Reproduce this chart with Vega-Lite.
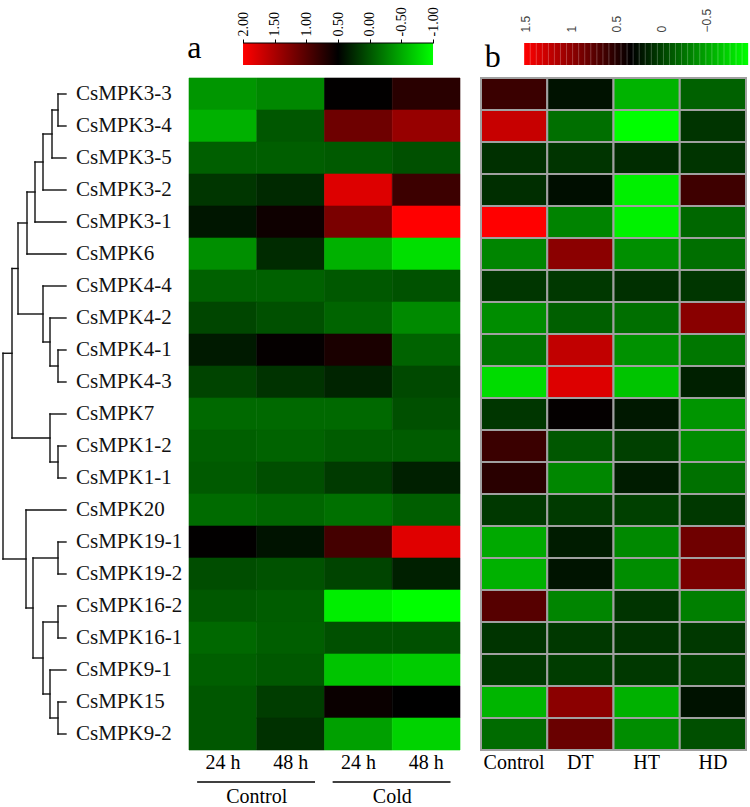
{
  "$schema": "https://vega.github.io/schema/vega-lite/v6.json",
  "padding": {"left": 0, "top": 6, "right": 0, "bottom": 0},
  "background": "white",
  "config": {"view": {"stroke": null}, "font": "Liberation Serif", "axis": {"grid": false}},
  "columns": 3,
  "spacing": {"row": 13, "column": 21},
  "bounds": "flush",
  "resolve": {"scale": {"x": "independent", "y": "independent", "color": "independent", "stroke": "independent"}},
  "datasets": {
    "genes": [
      {"gene": "CsMPK3-3", "idx": 0}, {"gene": "CsMPK3-4", "idx": 1}, {"gene": "CsMPK3-5", "idx": 2},
      {"gene": "CsMPK3-2", "idx": 3}, {"gene": "CsMPK3-1", "idx": 4}, {"gene": "CsMPK6", "idx": 5},
      {"gene": "CsMPK4-4", "idx": 6}, {"gene": "CsMPK4-2", "idx": 7}, {"gene": "CsMPK4-1", "idx": 8},
      {"gene": "CsMPK4-3", "idx": 9}, {"gene": "CsMPK7", "idx": 10}, {"gene": "CsMPK1-2", "idx": 11},
      {"gene": "CsMPK1-1", "idx": 12}, {"gene": "CsMPK20", "idx": 13}, {"gene": "CsMPK19-1", "idx": 14},
      {"gene": "CsMPK19-2", "idx": 15}, {"gene": "CsMPK16-2", "idx": 16}, {"gene": "CsMPK16-1", "idx": 17},
      {"gene": "CsMPK9-1", "idx": 18}, {"gene": "CsMPK15", "idx": 19}, {"gene": "CsMPK9-2", "idx": 20}
    ],
    "dendro": [
      {"h1": 0.8, "h2": 0.8, "y1": 0, "y2": 1}, {"h1": 0.8, "h2": 0, "y1": 0, "y2": 0}, {"h1": 0.8, "h2": 0, "y1": 1, "y2": 1},
      {"h1": 1.4, "h2": 1.4, "y1": 0.5, "y2": 2}, {"h1": 1.4, "h2": 0.8, "y1": 0.5, "y2": 0.5}, {"h1": 1.4, "h2": 0, "y1": 2, "y2": 2},
      {"h1": 2.3, "h2": 2.3, "y1": 1.25, "y2": 3}, {"h1": 2.3, "h2": 1.4, "y1": 1.25, "y2": 1.25}, {"h1": 2.3, "h2": 0, "y1": 3, "y2": 3},
      {"h1": 3.1, "h2": 3.1, "y1": 2.125, "y2": 4}, {"h1": 3.1, "h2": 2.3, "y1": 2.125, "y2": 2.125}, {"h1": 3.1, "h2": 0, "y1": 4, "y2": 4},
      {"h1": 3.9, "h2": 3.9, "y1": 3.0625, "y2": 5}, {"h1": 3.9, "h2": 3.1, "y1": 3.0625, "y2": 3.0625}, {"h1": 3.9, "h2": 0, "y1": 5, "y2": 5},
      {"h1": 0.8, "h2": 0.8, "y1": 8, "y2": 9}, {"h1": 0.8, "h2": 0, "y1": 8, "y2": 8}, {"h1": 0.8, "h2": 0, "y1": 9, "y2": 9},
      {"h1": 1.6, "h2": 1.6, "y1": 7, "y2": 8.5}, {"h1": 1.6, "h2": 0, "y1": 7, "y2": 7}, {"h1": 1.6, "h2": 0.8, "y1": 8.5, "y2": 8.5},
      {"h1": 2.3, "h2": 2.3, "y1": 6, "y2": 7.75}, {"h1": 2.3, "h2": 0, "y1": 6, "y2": 6}, {"h1": 2.3, "h2": 1.6, "y1": 7.75, "y2": 7.75},
      {"h1": 4.8, "h2": 4.8, "y1": 4.031, "y2": 6.875}, {"h1": 4.8, "h2": 3.9, "y1": 4.031, "y2": 4.031}, {"h1": 4.8, "h2": 2.3, "y1": 6.875, "y2": 6.875},
      {"h1": 0.8, "h2": 0.8, "y1": 11, "y2": 12}, {"h1": 0.8, "h2": 0, "y1": 11, "y2": 11}, {"h1": 0.8, "h2": 0, "y1": 12, "y2": 12},
      {"h1": 1.6, "h2": 1.6, "y1": 10, "y2": 11.5}, {"h1": 1.6, "h2": 0, "y1": 10, "y2": 10}, {"h1": 1.6, "h2": 0.8, "y1": 11.5, "y2": 11.5},
      {"h1": 5.4, "h2": 5.4, "y1": 5.453, "y2": 10.75}, {"h1": 5.4, "h2": 4.8, "y1": 5.453, "y2": 5.453}, {"h1": 5.4, "h2": 1.6, "y1": 10.75, "y2": 10.75},
      {"h1": 0.8, "h2": 0.8, "y1": 14, "y2": 15}, {"h1": 0.8, "h2": 0, "y1": 14, "y2": 14}, {"h1": 0.8, "h2": 0, "y1": 15, "y2": 15},
      {"h1": 0.8, "h2": 0.8, "y1": 16, "y2": 17}, {"h1": 0.8, "h2": 0, "y1": 16, "y2": 16}, {"h1": 0.8, "h2": 0, "y1": 17, "y2": 17},
      {"h1": 0.8, "h2": 0.8, "y1": 19, "y2": 20}, {"h1": 0.8, "h2": 0, "y1": 19, "y2": 19}, {"h1": 0.8, "h2": 0, "y1": 20, "y2": 20},
      {"h1": 1.6, "h2": 1.6, "y1": 18, "y2": 19.5}, {"h1": 1.6, "h2": 0, "y1": 18, "y2": 18}, {"h1": 1.6, "h2": 0.8, "y1": 19.5, "y2": 19.5},
      {"h1": 2.3, "h2": 2.3, "y1": 16.5, "y2": 18.75}, {"h1": 2.3, "h2": 0.8, "y1": 16.5, "y2": 16.5}, {"h1": 2.3, "h2": 1.6, "y1": 18.75, "y2": 18.75},
      {"h1": 3.3, "h2": 3.3, "y1": 14.5, "y2": 17.625}, {"h1": 3.3, "h2": 0.8, "y1": 14.5, "y2": 14.5}, {"h1": 3.3, "h2": 2.3, "y1": 17.625, "y2": 17.625},
      {"h1": 4.0, "h2": 4.0, "y1": 13, "y2": 16.0625}, {"h1": 4.0, "h2": 0, "y1": 13, "y2": 13}, {"h1": 4.0, "h2": 3.3, "y1": 16.0625, "y2": 16.0625},
      {"h1": 6.3, "h2": 6.3, "y1": 8.102, "y2": 14.531}, {"h1": 6.3, "h2": 5.4, "y1": 8.102, "y2": 8.102}, {"h1": 6.3, "h2": 4.0, "y1": 14.531, "y2": 14.531}
    ],
    "stripes": [
      {"at": 1.453}, {"at": 1.386}, {"at": 1.319}, {"at": 1.252}, {"at": 1.186}, {"at": 1.119}, {"at": 1.052}, {"at": 0.985},
      {"at": 0.918}, {"at": 0.851}, {"at": 0.784}, {"at": 0.717}, {"at": 0.650}, {"at": 0.584}, {"at": 0.517}, {"at": 0.450},
      {"at": 0.383}, {"at": 0.316}, {"at": 0.249}, {"at": 0.182}, {"at": 0.115}, {"at": 0.048}, {"at": -0.019}, {"at": -0.086},
      {"at": -0.152}, {"at": -0.219}, {"at": -0.286}, {"at": -0.353}, {"at": -0.420}, {"at": -0.487}, {"at": -0.554}, {"at": -0.621},
      {"at": -0.688}, {"at": -0.755}, {"at": -0.821}, {"at": -0.888}
    ],
    "cold": [
      {"gene": "CsMPK3-3", "idx": 0, "col": "Control 24 h", "v": -0.38}, {"gene": "CsMPK3-3", "idx": 0, "col": "Control 48 h", "v": -0.30}, {"gene": "CsMPK3-3", "idx": 0, "col": "Cold 24 h", "v": 0.51}, {"gene": "CsMPK3-3", "idx": 0, "col": "Cold 48 h", "v": 0.74},
      {"gene": "CsMPK3-4", "idx": 1, "col": "Control 24 h", "v": -0.54}, {"gene": "CsMPK3-4", "idx": 1, "col": "Control 48 h", "v": -0.01}, {"gene": "CsMPK3-4", "idx": 1, "col": "Cold 24 h", "v": 1.15}, {"gene": "CsMPK3-4", "idx": 1, "col": "Cold 48 h", "v": 1.39},
      {"gene": "CsMPK3-5", "idx": 2, "col": "Control 24 h", "v": -0.06}, {"gene": "CsMPK3-5", "idx": 2, "col": "Control 48 h", "v": -0.05}, {"gene": "CsMPK3-5", "idx": 2, "col": "Cold 24 h", "v": -0.03}, {"gene": "CsMPK3-5", "idx": 2, "col": "Cold 48 h", "v": 0.03},
      {"gene": "CsMPK3-2", "idx": 3, "col": "Control 24 h", "v": 0.18}, {"gene": "CsMPK3-2", "idx": 3, "col": "Control 48 h", "v": 0.26}, {"gene": "CsMPK3-2", "idx": 3, "col": "Cold 24 h", "v": 1.80}, {"gene": "CsMPK3-2", "idx": 3, "col": "Cold 48 h", "v": 0.85},
      {"gene": "CsMPK3-1", "idx": 4, "col": "Control 24 h", "v": 0.37}, {"gene": "CsMPK3-1", "idx": 4, "col": "Control 48 h", "v": 0.58}, {"gene": "CsMPK3-1", "idx": 4, "col": "Cold 24 h", "v": 1.22}, {"gene": "CsMPK3-1", "idx": 4, "col": "Cold 48 h", "v": 2.00},
      {"gene": "CsMPK6", "idx": 5, "col": "Control 24 h", "v": -0.34}, {"gene": "CsMPK6", "idx": 5, "col": "Control 48 h", "v": 0.25}, {"gene": "CsMPK6", "idx": 5, "col": "Cold 24 h", "v": -0.54}, {"gene": "CsMPK6", "idx": 5, "col": "Cold 48 h", "v": -0.81},
      {"gene": "CsMPK4-4", "idx": 6, "col": "Control 24 h", "v": -0.07}, {"gene": "CsMPK4-4", "idx": 6, "col": "Control 48 h", "v": -0.07}, {"gene": "CsMPK4-4", "idx": 6, "col": "Cold 24 h", "v": -0.02}, {"gene": "CsMPK4-4", "idx": 6, "col": "Cold 48 h", "v": 0.02},
      {"gene": "CsMPK4-2", "idx": 7, "col": "Control 24 h", "v": 0.09}, {"gene": "CsMPK4-2", "idx": 7, "col": "Control 48 h", "v": 0.03}, {"gene": "CsMPK4-2", "idx": 7, "col": "Cold 24 h", "v": -0.09}, {"gene": "CsMPK4-2", "idx": 7, "col": "Cold 48 h", "v": -0.31},
      {"gene": "CsMPK4-1", "idx": 8, "col": "Control 24 h", "v": 0.35}, {"gene": "CsMPK4-1", "idx": 8, "col": "Control 48 h", "v": 0.53}, {"gene": "CsMPK4-1", "idx": 8, "col": "Cold 24 h", "v": 0.65}, {"gene": "CsMPK4-1", "idx": 8, "col": "Cold 48 h", "v": -0.08},
      {"gene": "CsMPK4-3", "idx": 9, "col": "Control 24 h", "v": 0.10}, {"gene": "CsMPK4-3", "idx": 9, "col": "Control 48 h", "v": 0.20}, {"gene": "CsMPK4-3", "idx": 9, "col": "Cold 24 h", "v": 0.29}, {"gene": "CsMPK4-3", "idx": 9, "col": "Cold 48 h", "v": 0.07},
      {"gene": "CsMPK7", "idx": 10, "col": "Control 24 h", "v": -0.12}, {"gene": "CsMPK7", "idx": 10, "col": "Control 48 h", "v": -0.12}, {"gene": "CsMPK7", "idx": 10, "col": "Cold 24 h", "v": -0.12}, {"gene": "CsMPK7", "idx": 10, "col": "Cold 48 h", "v": 0.03},
      {"gene": "CsMPK1-2", "idx": 11, "col": "Control 24 h", "v": -0.06}, {"gene": "CsMPK1-2", "idx": 11, "col": "Control 48 h", "v": -0.08}, {"gene": "CsMPK1-2", "idx": 11, "col": "Cold 24 h", "v": -0.04}, {"gene": "CsMPK1-2", "idx": 11, "col": "Cold 48 h", "v": -0.04},
      {"gene": "CsMPK1-1", "idx": 12, "col": "Control 24 h", "v": -0.03}, {"gene": "CsMPK1-1", "idx": 12, "col": "Control 48 h", "v": 0.04}, {"gene": "CsMPK1-1", "idx": 12, "col": "Cold 24 h", "v": 0.16}, {"gene": "CsMPK1-1", "idx": 12, "col": "Cold 48 h", "v": 0.31},
      {"gene": "CsMPK20", "idx": 13, "col": "Control 24 h", "v": -0.13}, {"gene": "CsMPK20", "idx": 13, "col": "Control 48 h", "v": -0.10}, {"gene": "CsMPK20", "idx": 13, "col": "Cold 24 h", "v": -0.16}, {"gene": "CsMPK20", "idx": 13, "col": "Cold 48 h", "v": -0.05},
      {"gene": "CsMPK19-1", "idx": 14, "col": "Control 24 h", "v": 0.51}, {"gene": "CsMPK19-1", "idx": 14, "col": "Control 48 h", "v": 0.39}, {"gene": "CsMPK19-1", "idx": 14, "col": "Cold 24 h", "v": 0.90}, {"gene": "CsMPK19-1", "idx": 14, "col": "Cold 48 h", "v": 1.82},
      {"gene": "CsMPK19-2", "idx": 15, "col": "Control 24 h", "v": 0.05}, {"gene": "CsMPK19-2", "idx": 15, "col": "Control 48 h", "v": 0.02}, {"gene": "CsMPK19-2", "idx": 15, "col": "Cold 24 h", "v": 0.10}, {"gene": "CsMPK19-2", "idx": 15, "col": "Cold 48 h", "v": 0.31},
      {"gene": "CsMPK16-2", "idx": 16, "col": "Control 24 h", "v": -0.02}, {"gene": "CsMPK16-2", "idx": 16, "col": "Control 48 h", "v": -0.04}, {"gene": "CsMPK16-2", "idx": 16, "col": "Cold 24 h", "v": -0.90}, {"gene": "CsMPK16-2", "idx": 16, "col": "Cold 48 h", "v": -1.00},
      {"gene": "CsMPK16-1", "idx": 17, "col": "Control 24 h", "v": -0.11}, {"gene": "CsMPK16-1", "idx": 17, "col": "Control 48 h", "v": -0.05}, {"gene": "CsMPK16-1", "idx": 17, "col": "Cold 24 h", "v": 0.03}, {"gene": "CsMPK16-1", "idx": 17, "col": "Cold 48 h", "v": 0.03},
      {"gene": "CsMPK9-1", "idx": 18, "col": "Control 24 h", "v": -0.06}, {"gene": "CsMPK9-1", "idx": 18, "col": "Control 48 h", "v": -0.02}, {"gene": "CsMPK9-1", "idx": 18, "col": "Cold 24 h", "v": -0.65}, {"gene": "CsMPK9-1", "idx": 18, "col": "Cold 48 h", "v": -0.70},
      {"gene": "CsMPK15", "idx": 19, "col": "Control 24 h", "v": -0.01}, {"gene": "CsMPK15", "idx": 19, "col": "Control 48 h", "v": 0.14}, {"gene": "CsMPK15", "idx": 19, "col": "Cold 24 h", "v": 0.56}, {"gene": "CsMPK15", "idx": 19, "col": "Cold 48 h", "v": 0.50},
      {"gene": "CsMPK9-2", "idx": 20, "col": "Control 24 h", "v": -0.01}, {"gene": "CsMPK9-2", "idx": 20, "col": "Control 48 h", "v": 0.21}, {"gene": "CsMPK9-2", "idx": 20, "col": "Cold 24 h", "v": -0.44}, {"gene": "CsMPK9-2", "idx": 20, "col": "Cold 48 h", "v": -0.74}
    ],
    "stress": [
      {"gene": "CsMPK3-3", "idx": 0, "col": "Control", "v": 0.60}, {"gene": "CsMPK3-3", "idx": 0, "col": "DT", "v": 0.24}, {"gene": "CsMPK3-3", "idx": 0, "col": "HT", "v": -0.57}, {"gene": "CsMPK3-3", "idx": 0, "col": "HD", "v": -0.16},
      {"gene": "CsMPK3-4", "idx": 1, "col": "Control", "v": 1.26}, {"gene": "CsMPK3-4", "idx": 1, "col": "DT", "v": -0.23}, {"gene": "CsMPK3-4", "idx": 1, "col": "HT", "v": -0.955}, {"gene": "CsMPK3-4", "idx": 1, "col": "HD", "v": 0.07},
      {"gene": "CsMPK3-5", "idx": 2, "col": "Control", "v": 0.09}, {"gene": "CsMPK3-5", "idx": 2, "col": "DT", "v": 0.07}, {"gene": "CsMPK3-5", "idx": 2, "col": "HT", "v": 0.11}, {"gene": "CsMPK3-5", "idx": 2, "col": "HD", "v": 0.07},
      {"gene": "CsMPK3-2", "idx": 3, "col": "Control", "v": 0.10}, {"gene": "CsMPK3-2", "idx": 3, "col": "DT", "v": 0.26}, {"gene": "CsMPK3-2", "idx": 3, "col": "HT", "v": -0.88}, {"gene": "CsMPK3-2", "idx": 3, "col": "HD", "v": 0.62},
      {"gene": "CsMPK3-1", "idx": 4, "col": "Control", "v": 1.52}, {"gene": "CsMPK3-1", "idx": 4, "col": "DT", "v": -0.33}, {"gene": "CsMPK3-1", "idx": 4, "col": "HT", "v": -0.89}, {"gene": "CsMPK3-1", "idx": 4, "col": "HD", "v": -0.19},
      {"gene": "CsMPK6", "idx": 5, "col": "Control", "v": -0.34}, {"gene": "CsMPK6", "idx": 5, "col": "DT", "v": 0.98}, {"gene": "CsMPK6", "idx": 5, "col": "HT", "v": -0.39}, {"gene": "CsMPK6", "idx": 5, "col": "HD", "v": -0.23},
      {"gene": "CsMPK4-4", "idx": 6, "col": "Control", "v": 0.06}, {"gene": "CsMPK4-4", "idx": 6, "col": "DT", "v": 0.05}, {"gene": "CsMPK4-4", "idx": 6, "col": "HT", "v": 0.09}, {"gene": "CsMPK4-4", "idx": 6, "col": "HD", "v": 0.06},
      {"gene": "CsMPK4-2", "idx": 7, "col": "Control", "v": -0.38}, {"gene": "CsMPK4-2", "idx": 7, "col": "DT", "v": -0.15}, {"gene": "CsMPK4-2", "idx": 7, "col": "HT", "v": -0.23}, {"gene": "CsMPK4-2", "idx": 7, "col": "HD", "v": 0.97},
      {"gene": "CsMPK4-1", "idx": 8, "col": "Control", "v": -0.25}, {"gene": "CsMPK4-1", "idx": 8, "col": "DT", "v": 1.23}, {"gene": "CsMPK4-1", "idx": 8, "col": "HT", "v": -0.40}, {"gene": "CsMPK4-1", "idx": 8, "col": "HD", "v": -0.27},
      {"gene": "CsMPK4-3", "idx": 9, "col": "Control", "v": -0.78}, {"gene": "CsMPK4-3", "idx": 9, "col": "DT", "v": 1.36}, {"gene": "CsMPK4-3", "idx": 9, "col": "HT", "v": -0.66}, {"gene": "CsMPK4-3", "idx": 9, "col": "HD", "v": 0.17},
      {"gene": "CsMPK7", "idx": 10, "col": "Control", "v": 0.06}, {"gene": "CsMPK7", "idx": 10, "col": "DT", "v": 0.35}, {"gene": "CsMPK7", "idx": 10, "col": "HT", "v": 0.21}, {"gene": "CsMPK7", "idx": 10, "col": "HD", "v": -0.42},
      {"gene": "CsMPK1-2", "idx": 11, "col": "Control", "v": 0.60}, {"gene": "CsMPK1-2", "idx": 11, "col": "DT", "v": -0.11}, {"gene": "CsMPK1-2", "idx": 11, "col": "HT", "v": 0.01}, {"gene": "CsMPK1-2", "idx": 11, "col": "HD", "v": -0.38},
      {"gene": "CsMPK1-1", "idx": 12, "col": "Control", "v": 0.52}, {"gene": "CsMPK1-1", "idx": 12, "col": "DT", "v": -0.35}, {"gene": "CsMPK1-1", "idx": 12, "col": "HT", "v": 0.19}, {"gene": "CsMPK1-1", "idx": 12, "col": "HD", "v": -0.24},
      {"gene": "CsMPK20", "idx": 13, "col": "Control", "v": 0.05}, {"gene": "CsMPK20", "idx": 13, "col": "DT", "v": 0.04}, {"gene": "CsMPK20", "idx": 13, "col": "HT", "v": 0.01}, {"gene": "CsMPK20", "idx": 13, "col": "HD", "v": 0.05},
      {"gene": "CsMPK19-1", "idx": 14, "col": "Control", "v": -0.52}, {"gene": "CsMPK19-1", "idx": 14, "col": "DT", "v": 0.19}, {"gene": "CsMPK19-1", "idx": 14, "col": "HT", "v": -0.36}, {"gene": "CsMPK19-1", "idx": 14, "col": "HD", "v": 0.85},
      {"gene": "CsMPK19-2", "idx": 15, "col": "Control", "v": -0.56}, {"gene": "CsMPK19-2", "idx": 15, "col": "DT", "v": 0.23}, {"gene": "CsMPK19-2", "idx": 15, "col": "HT", "v": -0.38}, {"gene": "CsMPK19-2", "idx": 15, "col": "HD", "v": 0.90},
      {"gene": "CsMPK16-2", "idx": 16, "col": "Control", "v": 0.73}, {"gene": "CsMPK16-2", "idx": 16, "col": "DT", "v": -0.34}, {"gene": "CsMPK16-2", "idx": 16, "col": "HT", "v": 0.07}, {"gene": "CsMPK16-2", "idx": 16, "col": "HD", "v": -0.31},
      {"gene": "CsMPK16-1", "idx": 17, "col": "Control", "v": 0.07}, {"gene": "CsMPK16-1", "idx": 17, "col": "DT", "v": 0.05}, {"gene": "CsMPK16-1", "idx": 17, "col": "HT", "v": 0.07}, {"gene": "CsMPK16-1", "idx": 17, "col": "HD", "v": 0.05},
      {"gene": "CsMPK9-1", "idx": 18, "col": "Control", "v": 0.05}, {"gene": "CsMPK9-1", "idx": 18, "col": "DT", "v": 0.03}, {"gene": "CsMPK9-1", "idx": 18, "col": "HT", "v": 0.05}, {"gene": "CsMPK9-1", "idx": 18, "col": "HD", "v": 0.03},
      {"gene": "CsMPK15", "idx": 19, "col": "Control", "v": -0.58}, {"gene": "CsMPK15", "idx": 19, "col": "DT", "v": 0.98}, {"gene": "CsMPK15", "idx": 19, "col": "HT", "v": -0.56}, {"gene": "CsMPK15", "idx": 19, "col": "HD", "v": 0.24},
      {"gene": "CsMPK9-2", "idx": 20, "col": "Control", "v": -0.21}, {"gene": "CsMPK9-2", "idx": 20, "col": "DT", "v": 0.82}, {"gene": "CsMPK9-2", "idx": 20, "col": "HT", "v": -0.38}, {"gene": "CsMPK9-2", "idx": 20, "col": "HD", "v": -0.07}
    ]
  },
  "concat": [
    {"width": 168, "height": 22, "data": {"values": []}, "mark": "point"},
    {
      "width": 271, "height": 22,
      "data": {"values": [{"lo": 2, "hi": -1, "panel": "a"}]},
      "layer": [
        {
          "mark": {"type": "rect", "fill": {"gradient": "linear", "x1": 0, "x2": 1, "y1": 0, "y2": 0, "stops": [{"offset": 0, "color": "#ff0000"}, {"offset": 0.5, "color": "#000000"}, {"offset": 1, "color": "#00ff00"}]}},
          "encoding": {
            "x": {"field": "lo", "type": "quantitative", "scale": {"domain": [2.853, -1.426], "nice": false, "zero": false},
              "axis": {"orient": "top", "values": [2, 1.5, 1, 0.5, 0, -0.5, -1], "labelExpr": "replace(format(datum.value, '.2f'), '\u2212', '-')", "labelAngle": -90, "labelAlign": "left", "labelBaseline": "middle", "labelFont": "Liberation Serif", "labelFontSize": 14, "labelColor": "black", "labelPadding": 3, "tickSize": 4, "tickColor": "black", "tickWidth": 1, "domain": false, "title": null, "labelOverlap": false, "labelBound": false, "labelFlush": false}},
            "x2": {"field": "hi"},
            "y": {"datum": 0, "type": "quantitative", "scale": {"domain": [0, 1], "nice": false, "zero": false}, "axis": null},
            "y2": {"datum": 1}
          }
        },
        {
          "mark": {"type": "rule", "color": "black", "strokeWidth": 1},
          "encoding": {"x": {"field": "lo", "type": "quantitative"}, "x2": {"field": "hi"}, "y": {"datum": 1, "type": "quantitative"}}
        },
        {
          "mark": {"type": "text", "align": "left", "baseline": "alphabetic", "fontSize": 32, "font": "Liberation Serif", "color": "black"},
          "encoding": {"x": {"datum": 2.88, "type": "quantitative"}, "y": {"datum": 0.32, "type": "quantitative"}, "text": {"field": "panel"}}
        }
      ]
    },
    {
      "width": 265, "height": 22,
      "data": {"values": [{"lo": 1.52, "hi": -0.955, "panel": "b"}]},
      "layer": [
        {
          "mark": {"type": "rect", "fill": {"gradient": "linear", "x1": 0, "x2": 1, "y1": 0, "y2": 0, "stops": [{"offset": 0, "color": "#ff0000"}, {"offset": 0.48, "color": "#000000"}, {"offset": 1, "color": "#00ff00"}]}},
          "encoding": {
            "x": {"field": "lo", "type": "quantitative", "scale": {"domain": [1.997, -0.931], "nice": false, "zero": false},
              "axis": {"orient": "top", "values": [1.5, 1, 0.5, 0, -0.5], "format": "~g", "labelAngle": -90, "labelAlign": "left", "labelBaseline": "middle", "labelFont": "Liberation Sans", "labelFontSize": 12, "labelColor": "#444", "labelPadding": 11, "ticks": false, "tickSize": 0, "domain": false, "title": null, "labelOverlap": false, "labelBound": false, "labelFlush": false}},
            "x2": {"field": "hi"},
            "y": {"datum": 0, "type": "quantitative", "scale": {"domain": [0, 1], "nice": false, "zero": false}, "axis": null},
            "y2": {"datum": 1}
          }
        },
        {
          "data": {"name": "stripes"},
          "mark": {"type": "rule", "color": "#ffffff", "strokeWidth": 0.8, "opacity": 0.3},
          "encoding": {"x": {"field": "at", "type": "quantitative"}, "y": {"datum": 0, "type": "quantitative"}, "y2": {"datum": 1}}
        },
        {
          "mark": {"type": "text", "align": "left", "baseline": "alphabetic", "fontSize": 32, "font": "Liberation Serif", "color": "black"},
          "encoding": {"x": {"datum": 1.955, "type": "quantitative"}, "y": {"datum": -0.095, "type": "quantitative"}, "text": {"field": "panel"}}
        }
      ]
    },
    {
      "width": 168, "height": 672,
      "layer": [
        {
          "data": {"name": "dendro"},
          "mark": {"type": "rule", "color": "#111", "strokeWidth": 1.4, "strokeCap": "square"},
          "encoding": {
            "x": {"field": "h1", "type": "quantitative", "scale": {"domain": [6.6, -10.2], "nice": false, "zero": false}, "axis": null},
            "x2": {"field": "h2"},
            "y": {"field": "y1", "type": "quantitative", "scale": {"domain": [20.5, -0.5], "nice": false, "zero": false}, "axis": null},
            "y2": {"field": "y2"}
          }
        },
        {
          "data": {"name": "genes"},
          "mark": {"type": "text", "align": "left", "baseline": "middle", "dx": 10, "fontSize": 21, "font": "Liberation Serif", "color": "#111"},
          "encoding": {"x": {"datum": 0, "type": "quantitative"}, "y": {"field": "idx", "type": "quantitative"}, "text": {"field": "gene"}}
        }
      ]
    },
    {
      "width": 271, "height": 672,
      "data": {"name": "cold"},
      "mark": {"type": "rect", "strokeWidth": 0.6},
      "encoding": {
        "x": {"field": "col", "type": "nominal", "scale": {"domain": ["Control 24 h", "Control 48 h", "Cold 24 h", "Cold 48 h"], "paddingInner": 0, "paddingOuter": 0},
          "axis": {"orient": "bottom", "title": null, "labelExpr": "substring(datum.label, length(datum.label) - 4)", "labelAngle": 0, "labelFont": "Liberation Serif", "labelFontSize": 20, "labelColor": "black", "ticks": false, "tickSize": 0, "domain": false, "labelPadding": 2}},
        "y": {"field": "idx", "type": "ordinal", "scale": {"paddingInner": 0, "paddingOuter": 0}, "axis": null},
        "color": {"field": "v", "type": "quantitative", "scale": {"domain": [-1, 0.5, 2], "range": ["#00ff00", "#000000", "#ff0000"], "interpolate": "rgb"}, "legend": null},
        "stroke": {"field": "v", "type": "quantitative", "scale": {"domain": [-1, 0.5, 2], "range": ["#00ff00", "#000000", "#ff0000"], "interpolate": "rgb"}, "legend": null}
      }
    },
    {
      "width": 265, "height": 672,
      "data": {"name": "stress"},
      "mark": {"type": "rect", "stroke": "#a0a0a0", "strokeWidth": 2},
      "encoding": {
        "x": {"field": "col", "type": "nominal", "scale": {"domain": ["Control", "DT", "HT", "HD"], "paddingInner": 0, "paddingOuter": 0},
          "axis": {"orient": "bottom", "title": null, "labelAngle": 0, "labelFont": "Liberation Serif", "labelFontSize": 20, "labelColor": "black", "ticks": false, "tickSize": 0, "domain": false, "labelPadding": 2}},
        "y": {"field": "idx", "type": "ordinal", "scale": {"paddingInner": 0, "paddingOuter": 0}, "axis": null},
        "color": {"field": "v", "type": "quantitative", "scale": {"domain": [-0.955, 0.33, 1.52], "range": ["#00ff00", "#000000", "#ff0000"], "interpolate": "rgb"}, "legend": null}
      }
    },
    {"width": 168, "height": 45, "data": {"values": []}, "mark": "point"},
    {
      "width": 271, "height": 45,
      "data": {"values": [{"group": "Control", "first": "Control 24 h", "last": "Control 48 h"}, {"group": "Cold", "first": "Cold 24 h", "last": "Cold 48 h"}]},
      "layer": [
        {
          "mark": {"type": "rule", "color": "black", "strokeWidth": 1.5},
          "encoding": {
            "x": {"field": "first", "type": "nominal", "bandPosition": 0.12, "scale": {"domain": ["Control 24 h", "Control 48 h", "Cold 24 h", "Cold 48 h"], "paddingInner": 0, "paddingOuter": 0}, "axis": null},
            "x2": {"field": "last", "bandPosition": 0.86},
            "y": {"datum": 0.42, "type": "quantitative", "scale": {"domain": [1, 0], "nice": false, "zero": false}, "axis": null}
          }
        },
        {
          "mark": {"type": "text", "align": "center", "baseline": "middle", "fontSize": 20, "font": "Liberation Serif", "color": "black"},
          "encoding": {
            "x": {"field": "first", "type": "nominal", "bandPosition": 1},
            "y": {"datum": 0.76, "type": "quantitative"},
            "text": {"field": "group"}
          }
        }
      ]
    },
    {"width": 265, "height": 45, "data": {"values": []}, "mark": "point"}
  ]
}
